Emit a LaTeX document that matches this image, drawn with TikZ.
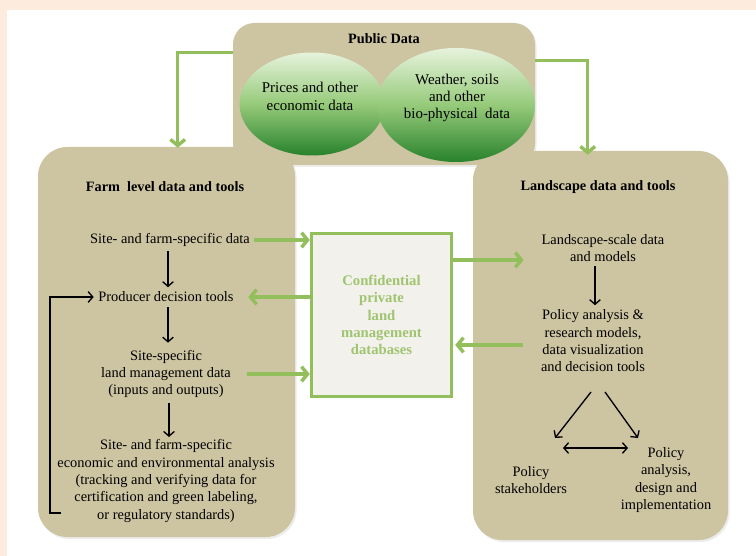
\documentclass[tikz,border=0pt]{standalone}
\usepackage{fontspec}
\setmainfont{Liberation Serif}
\usetikzlibrary{positioning,fit,calc,shapes.geometric,arrows.meta,shadows,backgrounds}
\definecolor{peach}{RGB}{253,235,221}
\definecolor{tan}{RGB}{205,196,161}
\definecolor{leaf}{RGB}{146,190,92}
\definecolor{leaftext}{RGB}{160,196,112}
\definecolor{paper}{RGB}{242,241,235}
\definecolor{paleleaf}{RGB}{230,243,220}
\definecolor{midleaf}{RGB}{150,202,122}
\definecolor{darkleaf}{RGB}{40,130,44}

\begin{document}
\begin{tikzpicture}[%
    x=0.75pt,y=-0.75pt,%
    font=\fontsize{10.8}{13}\selectfont,%
  ]
  %
  % Styles
  %
  \tikzset{
    panel/.style={fill=tan, inner sep=0pt, rounded corners=#1,
      drop shadow={shadow xshift=1.2pt, shadow yshift=-1.5pt, opacity=0.15}},
    panel/.default=16pt,
    blob/.style={ellipse, inner sep=0pt,
      top color=paleleaf, bottom color=darkleaf, middle color=midleaf},
    txt/.style={align=center},
    title/.style={font=\fontsize{10.7}{13}\selectfont\bfseries},
    grn/.style={draw=leaf, line width=2.6pt, -{Straight Barb[length=4.5pt,width=11pt]}},
    blk/.style={line width=1pt, -{Straight Barb[length=3.5pt,width=8pt]}},
  }
  \pgfmathsetmacro{\xl}{166};%
  \pgfmathsetmacro{\xr}{593};%

  % Background
  \fill[peach] (0,0) rectangle (756,556);
  \fill[white] (7,10) rectangle (756,556);
  \useasboundingbox (0,0) rectangle (756,556);

  %
  % Boxes
  %
  \node[panel, fit={(233,23) (535,165)}] (pub) {};
  \node[panel=22pt, fit={(38,147) (295,537)}] (farm) {};
  \node[panel=22pt, fit={(473,151) (728,540)}] (land) {};
  \node[draw=leaf, fill=paper, line width=2.6pt, minimum width=105pt,
    minimum height=122pt, align=center, text=leaftext,
    font=\fontsize{11}{13}\selectfont\bfseries] (conf) at (381.5,315)
    {Confidential\\ private\\ land\\ management\\ databases};

  % Public data
  \node[title] (pubt) at (384,39) {Public Data};
  \node[blob, minimum width=108.75pt, minimum height=77.25pt] (econ) at (312,104) {};
  \node[blob, minimum width=118.5pt, minimum height=85.5pt] (phys) at (456,105) {};
  \node[txt, font=\fontsize{11.2}{13.5}\selectfont] (econt) at (310,96) {Prices and other\\ economic data};
  \node[txt, font=\fontsize{11.2}{13}\selectfont] (physt) at (457,98) {Weather, soils\\ and other\\ bio-physical\ \ data};

  % Farm level
  \node[title] (farmt) at (165,187) {Farm\ \ level data and tools};
  \node[txt] (sfdata) at (170,240) {Site- and farm-specific data};
  \node[txt] (prod) at (\xl,297) {Producer decision tools};
  \node[txt] (sitespec) at (\xl,374) {Site-specific\\ land management data\\ (inputs and outputs)};
  \node[txt] (anal) at (\xl,481) {Site- and farm-specific\\ economic and environmental\ analysis\\
    (tracking and verifying\ data for\\ certification and green labeling,\\ or regulatory standards)};

  % Landscape
  \node[title] (landt) at (598,187) {Landscape data and tools};
  \node[txt] (ls) at (603,248) {Landscape-scale data\\ and models};
  \node[txt] (pol) at (\xr,341) {Policy\ analysis \&\\ research models,\\ data visualization\\ and decision tools};
  \node[txt] (stake) at (531,480) {Policy\\ stakeholders};
  \node[txt] (impl) at (666,480) {Policy\\ analysis,\\ design and\\ implementation};

  % Loose ends
  \coordinate (fb) at (61,513);
  \coordinate (ta) at (591,392);
  \coordinate (tb) at (555,438);
  \coordinate (tc) at (605,392);
  \coordinate (td) at (638,438);
  \coordinate (te) at (563,448);
  \coordinate (tf) at (628,448);

  %
  % Connectors
  %
  % Public data out
  \draw[grn] ($(pub.north west)+(0,30)$) -| ($(farm.north west)+(140,1)$);
  \draw[grn] ($(pub.north east)+(0,38)$) -| ($(land.north west)+(115,4)$);

  % To and from the databases
  \draw[grn] (sfdata.east) -- (sfdata.east -| conf.west);
  \draw[grn, shorten >=7.5pt] (conf.west |- prod.east) -- (prod.east);
  \draw[grn, shorten <=9pt] (sitespec.east) -- (sitespec.east -| conf.west);
  \draw[grn, shorten >=10pt] ($(conf.north east)+(0,28)$) coordinate (c1) -- (c1 -| ls.west);
  \draw[grn, shorten <=10pt, shorten >=1.5pt] ($(pol.west)+(0,4)$) coordinate (c2) -- (c2 -| conf.east);

  % Farm chain
  \draw[blk] ($(sfdata.south)+(-2,0)$) coordinate (f1) -- (f1 |- prod.north);
  \draw[blk, shorten >=2pt] ($(prod.south)+(2,0)$) coordinate (f2) -- (f2 |- sitespec.north);
  \draw[blk] ($(sitespec.south)+(3,0)$) coordinate (f3) -- ($(f3 |- anal.north)+(0,2)$);
  \draw[blk] (fb) -- ++(-11,0) |- (prod.west);

  % Landscape chain
  \draw[blk] ($(ls.south)+(-8,0)$) coordinate (l1) -- (l1 |- pol.north);
  \draw[blk] (ta) -- (tb);
  \draw[blk] (tc) -- (td);
  \draw[line width=1pt, {Straight Barb[length=3.5pt,width=8pt]}-{Straight Barb[length=3.5pt,width=8pt]}]
    (te) -- (tf);

\end{tikzpicture}
\end{document}
